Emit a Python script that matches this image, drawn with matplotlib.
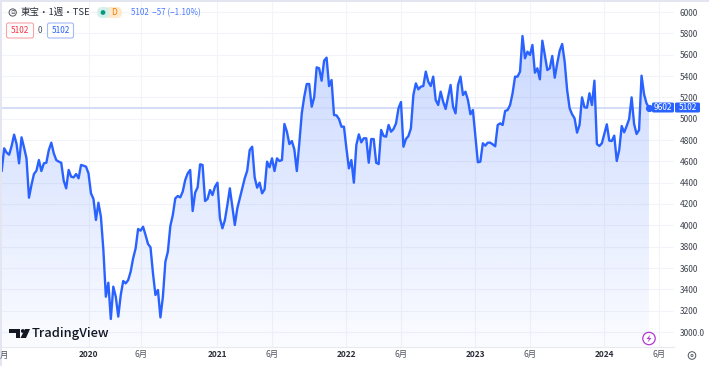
import matplotlib
matplotlib.use("Agg")
import matplotlib.pyplot as plt
import numpy as np
from matplotlib.patches import Circle, FancyBboxPatch, Polygon, Rectangle

plt.rcParams['font.family'] = ['Noto Sans CJK JP', 'DejaVu Sans']

# weekly closes
prices = [
    4512, 4722, 4681, 4662, 4744, 4850, 4762, 4581, 4825, 4731, 4628, 4259, 4378, 4481, 4512, 4612,
    4509, 4581, 4587, 4706, 4775, 4675, 4612, 4597, 4587, 4419, 4347, 4519, 4456, 4450, 4481, 4441,
    4566, 4559, 4550, 4487, 4300, 4247, 4050, 4212, 4081, 3769, 3331, 3462, 3122, 3425, 3331, 3144,
    3347, 3478, 3456, 3487, 3566, 3691, 3784, 3966, 3950, 3987, 3909, 3825, 3794, 3550, 3347, 3394,
    3137, 3331, 3659, 3753, 3994, 4097, 4253, 4275, 4262, 4316, 4425, 4487, 4519, 4134, 4306, 4356,
    4572, 4566, 4228, 4247, 4331, 4284, 4362, 4400, 4066,
    3972, 4050, 4191, 4347, 4175, 4003, 4159, 4253, 4347, 4441, 4513, 4706, 4737, 4450, 4353, 4400,
    4300, 4337, 4597, 4544, 4628, 4509, 4628, 4603, 4612, 4950, 4878, 4762, 4790, 4712, 4509, 4769,
    5050, 5206, 5325, 5325, 5112, 5200, 5481, 5472, 5356, 5544, 5572, 5306, 5362, 5034, 5031, 4997,
    4925, 4925, 4722, 4534, 4612, 4400, 4753, 4853, 4778, 4816, 4816, 4587, 4809, 4809, 4587, 4575,
    4894, 4837, 4831, 4941, 4878, 4903, 4956, 5097, 5156, 4737, 4809, 4837, 4909, 5222, 5331, 5275,
    5300, 5306, 5441, 5347, 5306,
    5394, 5175, 5128, 5253, 5159, 5091, 5206, 5316, 5112, 5050, 5316, 5394, 5222, 5253, 5175, 5041,
    5081, 4831, 4591, 4597, 4769, 4747, 4775, 4775, 4759, 4741, 4941, 4956, 4941, 5072, 5081, 5128,
    5238, 5394, 5394, 5441, 5775, 5566, 5628, 5597, 5691, 5431, 5472, 5369, 5731, 5597, 5456, 5472,
    5588, 5384, 5519, 5637, 5700, 5534, 5269, 5097, 5041, 5003, 4869, 4941, 5200, 5106, 5103, 5238,
    5128, 5356, 4762, 4744, 4769, 4856, 4947, 4794, 4791, 4841, 4603, 4706, 4931, 4872, 4931, 4997,
    5200, 4950, 4856, 4894, 5403, 5231, 5144, 5102,
]
last_price = 5102

price_ticks = [3000, 3200, 3400, 3600, 3800, 4000, 4200, 4400, 4600, 4800, 5000, 5200, 5400, 5600, 5800, 6000]
price_labels = ["3000.0"] + [str(p) for p in price_ticks[1:]]
# bar number of the first week of each labelled period
week_ticks = [35, 56, 87, 109, 139, 161, 191, 213, 243, 265]
date_labels = ["2020", "6月", "2021", "6月", "2022", "6月", "2023", "6月", "2024", "6月"]

BLUE = "#2962ff"
W, H = 709, 366

weeks = np.arange(len(prices))
fig = plt.figure(figsize=(W / 100, H / 100), dpi=100)

# main chart, placed on the pixel frame of the picture
ax = fig.add_axes([2 / W, (H - 347) / H, 672 / W, 345 / H])
px_per_week = 2.48
x0 = (2 - 1.7) / px_per_week
ax.set_xlim(x0, x0 + 672 / px_per_week)
ax.set_ylim(6000 - 335 * 9.375, 6000 + 10 * 9.375)

for s in ax.spines.values():
    s.set_visible(False)
ax.spines["bottom"].set_visible(True)
ax.spines["bottom"].set_color("#e8eaf0")
ax.spines["bottom"].set_linewidth(0.8)

ax.yaxis.tick_right()
ax.set_yticks(price_ticks, price_labels)
ax.set_xticks(week_ticks, date_labels)
ax.tick_params(axis="y", length=0, pad=4, labelsize=6, labelcolor="#3f434e")
ax.tick_params(axis="x", length=0, pad=2.3, labelsize=6, labelcolor="#50535e")
for lab in ax.get_xticklabels():
    if lab.get_text().isdigit():
        lab.set_fontweight("bold")
        lab.set_color("#2a2e39")
ax.grid(True, color="#f2f4f9", lw=0.8)
ax.set_axisbelow(True)

# area gradient, clipped to the region below the line
grad = np.zeros((256, 2, 4))
grad[..., 0] = 41 / 255
grad[..., 1] = 98 / 255
grad[..., 2] = 1.0
grad[..., 3] = np.linspace(0.27, 0.02, 256)[:, None]
ylim = ax.get_ylim()
xlim = ax.get_xlim()
im = ax.imshow(grad, extent=[xlim[0], xlim[1], ylim[0], ylim[1]], origin="upper", aspect="auto", zorder=1)
area = Polygon(list(zip(weeks, prices)) + [(weeks[-1], ylim[0]), (weeks[0], ylim[0])],
               closed=True, transform=ax.transData, fc="none", ec="none")
ax.add_patch(area)
im.set_clip_path(area)
ax.set_xlim(xlim)
ax.set_ylim(ylim)

ax.axhline(last_price, color="#cdd8f8", lw=1.2, zorder=2)
ax.plot(weeks, prices, color=BLUE, lw=1.7, zorder=3, solid_joinstyle="round")
ax.plot(weeks[-1], last_price, "o", color=BLUE, ms=4.2, zorder=4)

# overlay in picture pixels for the tradingview furniture
ov = fig.add_axes([0, 0, 1, 1], facecolor="none")
ov.set_xlim(0, W)
ov.set_ylim(H, 0)
ov.axis("off")

ov.add_patch(Rectangle((0, 0), W, 2, fc="#e3e6f1", ec="none"))
ov.add_patch(Rectangle((0, 0), 1.8, H, fc="#e3e6f1", ec="none"))
ov.text(4, 355.5, "月", fontsize=6, color="#50535e", ha="center", va="center")

# header
ov.add_patch(Circle((12.7, 12.5), 3.6, fc="none", ec="#50535e", lw=0.7))
ov.text(12.7, 12.5, "日", fontsize=3.2, color="#50535e", ha="center", va="center")
ov.text(21, 12.3, "東宝・1週・TSE", fontsize=6.8, color="#2a2e39", ha="left", va="center")
ov.add_patch(FancyBboxPatch((105, 7), 17, 11, boxstyle="round,pad=0,rounding_size=5.5", fc="#ffe9cc", ec="none"))
ov.add_patch(FancyBboxPatch((97, 7), 13, 11, boxstyle="round,pad=0,rounding_size=5.5", fc="#d5f0ea", ec="none"))
ov.add_patch(Rectangle((109, 7), 1.5, 11, fc="#ffe9cc", ec="none"))
ov.add_patch(Circle((103, 12.5), 2.4, fc="#089981", ec="none"))
ov.text(114.5, 12.5, "D", fontsize=6, color="#f57c00", ha="center", va="center")
ov.text(131, 12.5, "5102  −57 (−1.10%)", fontsize=5.8, color=BLUE, ha="left", va="center", alpha=0.85)

ov.add_patch(FancyBboxPatch((6.5, 23), 27, 15, boxstyle="round,pad=0,rounding_size=2", fc="white", ec="#f7a5ab", lw=0.8))
ov.text(20, 30.5, "5102", fontsize=6, color="#f23645", ha="center", va="center")
ov.text(40, 30.5, "0", fontsize=6, color="#50535e", ha="center", va="center")
ov.add_patch(FancyBboxPatch((47.5, 23), 26, 15, boxstyle="round,pad=0,rounding_size=2", fc="white", ec="#a4b9f8", lw=0.8))
ov.text(60.5, 30.5, "5102", fontsize=6, color=BLUE, ha="center", va="center")

# last price tags
ov.add_patch(FancyBboxPatch((652, 102.5), 22, 10, boxstyle="round,pad=0,rounding_size=1.5", fc=BLUE, ec="none"))
ov.add_patch(FancyBboxPatch((675, 102.5), 25, 10, boxstyle="round,pad=0,rounding_size=1.5", fc=BLUE, ec="none"))
ov.text(663, 107.5, "9602", fontsize=6, color="white", ha="center", va="center")
ov.text(687.5, 107.5, "5102", fontsize=6, color="white", ha="center", va="center")

# logo
ov.add_patch(Polygon([(9, 329), (20, 329), (20, 338), (15.5, 338), (15.5, 333), (9, 333)], fc="#131722", ec="none"))
ov.add_patch(Circle((22.8, 331), 1.9, fc="#131722", ec="none"))
ov.add_patch(Polygon([(25, 329), (30, 329), (26, 338), (20.5, 338)], fc="#131722", ec="none"))
ov.text(32, 334, "TradingView", fontsize=9.3, fontweight="medium", color="#131722", ha="left", va="center")

# bolt marker and settings
ov.add_patch(Circle((649, 338.5), 6.2, fc="white", ec="#b23ad1", lw=0.9))
ov.add_patch(Polygon([(650.5, 334.5), (646.5, 339), (649, 339), (647.5, 342.5), (651.5, 338), (649, 338)], fc="#b23ad1", ec="none"))
ov.add_patch(Circle((692, 355.5), 3.8, fc="none", ec="#50535e", lw=0.7))
ov.add_patch(Circle((692, 355.5), 1.1, fc="none", ec="#50535e", lw=0.6))

fig.savefig("out.png", dpi=100)
